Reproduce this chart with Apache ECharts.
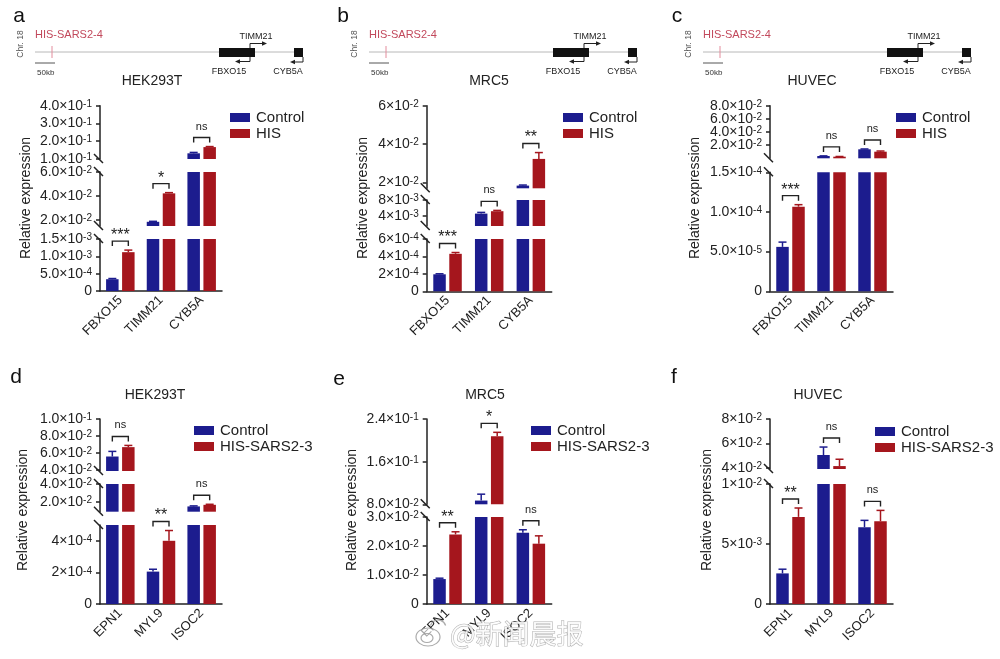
<!DOCTYPE html>
<html><head><meta charset="utf-8">
<script src="https://cdn.jsdelivr.net/npm/echarts@6/dist/echarts.min.js"></script>
<style>html,body{margin:0;padding:0;background:#fff}#c{width:1000px;height:659px}</style>
</head><body><div id="c"></div>
<script>
// ================= DATA =================
const genesTop = ['FBXO15', 'TIMM21', 'CYB5A'];
const genesBottom = ['EPN1', 'MYL9', 'ISOC2'];
const cellLines = ['HEK293T', 'MRC5', 'HUVEC'];
const namesTop = ['Control', 'HIS'];
const namesBottom = ['Control', 'HIS-SARS2-3'];

// panel a (HEK293T, top)
const aControl = [3.4e-4, 1.85e-2, 1.32e-1];
const aControlErr = [2e-5, 4e-4, 5e-3];
const aHIS = [1.12e-3, 4.22e-2, 1.67e-1];
const aHISErr = [6e-5, 6e-4, 3e-3];
const aSig = ['***', '*', 'ns'];
const aRanges = [[0, 1.5e-3], [1.5e-2, 6e-2], [1e-1, 4e-1]];
const aTicks = [[0, 5e-4, 1e-3, 1.5e-3], [2e-2, 4e-2, 6e-2], [1e-1, 2e-1, 3e-1, 4e-1]];
const aTickLabels = [['0', '5.0×10^-4', '1.0×10^-3', '1.5×10^-3'], ['2.0×10^-2', '4.0×10^-2', '6.0×10^-2'], ['1.0×10^-1', '2.0×10^-1', '3.0×10^-1', '4.0×10^-1']];

// panel b (MRC5, top)
const bControl = [1.95e-4, 4.6e-3, 1.84e-2];
const bControlErr = [6e-6, 3e-4, 3e-4];
const bHIS = [4.3e-4, 5.2e-3, 3.23e-2];
const bHISErr = [1.5e-5, 2e-4, 3.3e-3];
const bSig = ['***', 'ns', '**'];
const bRanges = [[0, 6e-4], [1.5e-3, 8e-3], [1.7e-2, 6e-2]];
const bTicks = [[0, 2e-4, 4e-4, 6e-4], [4e-3, 8e-3], [2e-2, 4e-2, 6e-2]];
const bTickLabels = [['0', '2×10^-4', '4×10^-4', '6×10^-4'], ['4×10^-3', '8×10^-3'], ['2×10^-2', '4×10^-2', '6×10^-2']];

// panel c (HUVEC, top)
const cControl = [5.6e-5, 3.6e-3, 1.38e-2];
const cControlErr = [6e-6, 2e-4, 5e-4];
const cHIS = [1.067e-4, 2.6e-3, 1.02e-2];
const cHISErr = [2.5e-6, 3e-4, 1e-3];
const cSig = ['***', 'ns', 'ns'];
const cRanges = [[0, 1.5e-4], [1.5e-4, 8e-2]];
const cTicks = [[0, 5e-5, 1e-4, 1.5e-4], [2e-2, 4e-2, 6e-2, 8e-2]];
const cTickLabels = [['0', '5.0×10^-5', '1.0×10^-4', '1.5×10^-4'], ['2.0×10^-2', '4.0×10^-2', '6.0×10^-2', '8.0×10^-2']];

// panel d (HEK293T, bottom)
const dControl = [5.6e-2, 2.05e-4, 1.49e-2];
const dControlErr = [6e-3, 1.5e-5, 6e-4];
const dHIS = [6.7e-2, 4.0e-4, 1.67e-2];
const dHISErr = [2e-3, 6.5e-5, 6e-4];
const dSig = ['ns', '**', 'ns'];
const dRanges = [[0, 5e-4], [9e-3, 4e-2], [3.9e-2, 1e-1]];
const dTicks = [[0, 2e-4, 4e-4], [2e-2, 4e-2], [4e-2, 6e-2, 8e-2, 1e-1]];
const dTickLabels = [['0', '2×10^-4', '4×10^-4'], ['2.0×10^-2', '4.0×10^-2'], ['4.0×10^-2', '6.0×10^-2', '8.0×10^-2', '1.0×10^-1']];

// panel e (MRC5, bottom)
const eControl = [8.6e-3, 8.7e-2, 2.46e-2];
const eControlErr = [3e-4, 1.2e-2, 1e-3];
const eHIS = [2.4e-2, 2.076e-1, 2.08e-2];
const eHISErr = [9e-4, 7.4e-3, 2.7e-3];
const eSig = ['**', '*', 'ns'];
const eRanges = [[0, 3e-2], [8e-2, 2.4e-1]];
const eTicks = [[0, 1e-2, 2e-2, 3e-2], [8e-2, 1.6e-1, 2.4e-1]];
const eTickLabels = [['0', '1.0×10^-2', '2.0×10^-2', '3.0×10^-2'], ['8.0×10^-2', '1.6×10^-1', '2.4×10^-1']];

// panel f (HUVEC, bottom)
const fControl = [2.55e-3, 5.05e-2, 6.4e-3];
const fControlErr = [3.5e-4, 6.5e-3, 5.7e-4];
const fHIS = [7.26e-3, 4.14e-2, 6.9e-3];
const fHISErr = [7.4e-4, 5.6e-3, 9e-4];
const fSig = ['**', 'ns', 'ns'];
const fRanges = [[0, 1e-2], [3.9e-2, 8e-2]];
const fTicks = [[0, 5e-3, 1e-2], [4e-2, 6e-2, 8e-2]];
const fTickLabels = [['0', '5×10^-3', '1×10^-2'], ['4×10^-2', '6×10^-2', '8×10^-2']];

// ================= PANELS & LAYOUT =================
const panels = [
  { id: 'a', cats: genesTop, names: namesTop, ctrl: aControl, ctrlErr: aControlErr, trt: aHIS, trtErr: aHISErr, sig: aSig, ranges: aRanges, ticks: aTicks, labels: aTickLabels, title: cellLines[0] },
  { id: 'b', cats: genesTop, names: namesTop, ctrl: bControl, ctrlErr: bControlErr, trt: bHIS, trtErr: bHISErr, sig: bSig, ranges: bRanges, ticks: bTicks, labels: bTickLabels, title: cellLines[1] },
  { id: 'c', cats: genesTop, names: namesTop, ctrl: cControl, ctrlErr: cControlErr, trt: cHIS, trtErr: cHISErr, sig: cSig, ranges: cRanges, ticks: cTicks, labels: cTickLabels, title: cellLines[2] },
  { id: 'd', cats: genesBottom, names: namesBottom, ctrl: dControl, ctrlErr: dControlErr, trt: dHIS, trtErr: dHISErr, sig: dSig, ranges: dRanges, ticks: dTicks, labels: dTickLabels, title: cellLines[0] },
  { id: 'e', cats: genesBottom, names: namesBottom, ctrl: eControl, ctrlErr: eControlErr, trt: eHIS, trtErr: eHISErr, sig: eSig, ranges: eRanges, ticks: eTicks, labels: eTickLabels, title: cellLines[1] },
  { id: 'f', cats: genesBottom, names: namesBottom, ctrl: fControl, ctrlErr: fControlErr, trt: fHIS, trtErr: fHISErr, sig: fSig, ranges: fRanges, ticks: fTicks, labels: fTickLabels, title: cellLines[2] }
];

const layout = {
  a: { x0: 100, x1: 222, segs: [[239, 291], [172, 226], [105.7, 159]], legend: [230, 110], title: [152, 81], ylab: [26, 198], letter: [19, 16] },
  b: { x0: 426.7, x1: 551.7, segs: [[239, 291.3], [200, 226], [105.7, 188.3]], legend: [563, 110], title: [489, 81], ylab: [363, 198], letter: [343, 16] },
  c: { x0: 770, x1: 893, segs: [[172.3, 291.3], [105.7, 158.3]], legend: [896, 110], title: [812, 81], ylab: [695, 198], letter: [677, 16] },
  d: { x0: 100, x1: 222, segs: [[525, 604], [484, 511.7], [419, 471]], legend: [194, 423], title: [155, 395], ylab: [23, 510], letter: [16, 377] },
  e: { x0: 426.7, x1: 551.7, segs: [[517, 604], [419, 504.3]], legend: [531, 423], title: [485, 395], ylab: [352, 510], letter: [339, 379] },
  f: { x0: 770, x1: 893, segs: [[484, 604], [419, 469]], legend: [875, 424], title: [818, 395], ylab: [707, 510], letter: [674, 377] }
};

const FONT = "'Liberation Sans', Arial, Helvetica, sans-serif";
const BLUE = '#1c1c8e';
const RED = '#a5161d';
const INK = '#222';
const BW = 12.5, GAP = 3.5, OFF = (BW + GAP) / 2;

const RICH = {
  m: { fontSize: 14, fontFamily: FONT, color: INK, lineHeight: 13 },
  e: { fontSize: 10, fontFamily: FONT, color: INK, lineHeight: 8, verticalAlign: 'top' }
};
function fmt(s) {
  const i = s.indexOf('^');
  if (i < 0) return '{m|' + s + '}';
  return '{m|' + s.slice(0, i) + '}{e|' + s.slice(i + 1) + '}';
}
function nearest(arr, v) {
  let bi = 0, bd = Infinity;
  arr.forEach((t, i) => { const d = Math.abs(t - v); if (d < bd) { bd = d; bi = i; } });
  return bi;
}

function errRender(params, api) {
  const i = api.value(0), v = api.value(1), e = api.value(2), g = api.value(3);
  const p0 = api.coord([i, v]);
  const p1 = api.coord([i, v + e]);
  const x = p0[0] + (g === 0 ? -OFF : OFF);
  const col = g === 0 ? BLUE : RED;
  return {
    type: 'group', children: [
      { type: 'line', shape: { x1: x, y1: p0[1], x2: x, y2: p1[1] }, style: { stroke: col, lineWidth: 1.5 } },
      { type: 'line', shape: { x1: x - 4, y1: p1[1], x2: x + 4, y2: p1[1] }, style: { stroke: col, lineWidth: 1.5 } }
    ]
  };
}
function makeBracket(sig) {
  return function (params, api) {
    const i = api.value(0);
    const c = api.coord([i, api.value(1)]);
    const y = c[1] - 9;
    const xl = c[0] - OFF, xr = c[0] + OFF;
    const txt = sig[i];
    const star = txt.indexOf('*') >= 0;
    return {
      type: 'group', children: [
        { type: 'polyline', shape: { points: [[xl, y + 5], [xl, y], [xr, y], [xr, y + 5]] }, style: { stroke: INK, lineWidth: 1.4, fill: null } },
        { type: 'text', style: { text: txt, x: (xl + xr) / 2, y: star ? y - 5.5 : y - 11, textAlign: 'center', textVerticalAlign: 'middle', fontSize: star ? 16 : 11, fontFamily: FONT, fill: INK } }
      ]
    };
  };
}

const grid = [], xAxis = [], yAxis = [], series = [], legend = [], graphic = [];

function valueAxis(gi, rg, ticks, labs, showLine) {
  return {
    type: 'value', gridIndex: gi, position: 'left', offset: 0, min: rg[0], max: rg[1],
    splitLine: { show: false },
    axisLine: { show: showLine, onZero: false, lineStyle: { color: INK, width: 1.5 } },
    axisTick: { show: true, length: 4, customValues: ticks, lineStyle: { color: INK, width: 1.5 } },
    axisLabel: { customValues: ticks, margin: 8, hideOverlap: false, showMinLabel: true, showMaxLabel: true, formatter: v => fmt(labs[nearest(ticks, v)]), rich: RICH }
  };
}

panels.forEach(p => {
  const L = layout[p.id];
  const n = p.ranges.length;
  p.ranges.forEach((rg, si) => {
    const gi = grid.length;
    const top = L.segs[si][0], bottom = L.segs[si][1];
    grid.push({ left: L.x0, top: top, width: L.x1 - L.x0, height: bottom - top, containLabel: false, outerBoundsMode: 'none' });
    const isBottom = si === 0;
    xAxis.push({
      type: 'category', gridIndex: gi, data: p.cats, show: isBottom,
      axisLine: { onZero: false, lineStyle: { color: INK, width: 1.5 } },
      axisTick: { alignWithLabel: true, length: 5, lineStyle: { color: INK, width: 1.5 } },
      axisLabel: { rotate: 45, interval: 0, fontSize: 13, color: INK, margin: 7, fontFamily: FONT, hideOverlap: false }
    });
    // tick labels are split over two coincident axes (alternating), so tightly packed labels are all kept
    const ticks = p.ticks[si], labs = p.labels[si];
    const evT = ticks.filter((t, k) => k % 2 === 0), evL = labs.filter((t, k) => k % 2 === 0);
    const odT = ticks.filter((t, k) => k % 2 === 1), odL = labs.filter((t, k) => k % 2 === 1);
    const ya = yAxis.length;
    yAxis.push(valueAxis(gi, rg, evT, evL, true));
    if (odT.length) yAxis.push(valueAxis(gi, rg, odT, odL, false));
    series.push({ type: 'bar', name: p.names[0], xAxisIndex: gi, yAxisIndex: ya, data: p.ctrl, barWidth: BW, barGap: (GAP / BW * 100) + '%', itemStyle: { color: BLUE }, clip: true, silent: true });
    series.push({ type: 'bar', name: p.names[1], xAxisIndex: gi, yAxisIndex: ya, data: p.trt, barWidth: BW, barGap: (GAP / BW * 100) + '%', itemStyle: { color: RED }, clip: true, silent: true });
    const errData = [];
    p.cats.forEach((c, i) => {
      if (p.ctrl[i] >= rg[0] && p.ctrl[i] <= rg[1]) errData.push([i, p.ctrl[i], p.ctrlErr[i], 0]);
      if (p.trt[i] >= rg[0] && p.trt[i] <= rg[1]) errData.push([i, p.trt[i], p.trtErr[i], 1]);
    });
    series.push({ type: 'custom', xAxisIndex: gi, yAxisIndex: ya, data: errData, encode: { x: 0, y: 1 }, renderItem: errRender, z: 4, silent: true });
    const brData = [];
    p.cats.forEach((c, i) => {
      const t = Math.max(p.ctrl[i] + p.ctrlErr[i], p.trt[i] + p.trtErr[i]);
      if (t > rg[0] && t <= rg[1]) brData.push([i, t]);
    });
    series.push({ type: 'custom', xAxisIndex: gi, yAxisIndex: ya, data: brData, encode: { x: 0, y: 1 }, renderItem: makeBracket(p.sig), clip: false, z: 5, silent: true });

    // axis break marks
    const mark = y => ({ type: 'line', shape: { x1: L.x0 - 6, y1: y - 5, x2: L.x0 + 3, y2: y + 4 }, style: { stroke: INK, lineWidth: 1.5 }, z: 10 });
    if (si > 0) graphic.push(mark(bottom));
    if (si < n - 1) graphic.push(mark(top));
  });

  legend.push({
    data: p.names, left: L.legend[0], top: L.legend[1], orient: 'vertical', icon: 'rect',
    itemWidth: 20, itemHeight: 9, itemGap: 1, selectedMode: false, padding: 0,
    textStyle: { fontSize: 15, color: INK, fontFamily: FONT, lineHeight: 15, padding: [0, 0, 0, 1] }
  });

  graphic.push({ type: 'text', x: L.title[0], y: L.title[1], style: { text: p.title, fontSize: 14, fontFamily: FONT, fill: INK, textAlign: 'center', textVerticalAlign: 'middle' } });
  graphic.push({ type: 'text', x: L.ylab[0], y: L.ylab[1], rotation: Math.PI / 2, style: { text: 'Relative expression', fontSize: 14, fontFamily: FONT, fill: INK, textAlign: 'center', textVerticalAlign: 'middle' } });
  graphic.push({ type: 'text', x: L.letter[0], y: L.letter[1], style: { text: p.id, fontSize: 21, fontFamily: FONT, fill: '#111', textAlign: 'center', textVerticalAlign: 'middle' } });
});

// gene locus schematics (panels a, b, c)
function geneDiagram(dx) {
  const ln = (x1, y1, x2, y2, stroke, w) => ({ type: 'line', shape: { x1: x1 + dx, y1: y1, x2: x2 + dx, y2: y2 }, style: { stroke: stroke, lineWidth: w } });
  const pl = pts => ({ type: 'polyline', shape: { points: pts.map(q => [q[0] + dx, q[1]]) }, style: { stroke: '#222', lineWidth: 1, fill: null } });
  const tri = pts => ({ type: 'polygon', shape: { points: pts.map(q => [q[0] + dx, q[1]]) }, style: { fill: '#222' } });
  const tx = (t, x, y, size, fill, align) => ({ type: 'text', x: x + dx, y: y, style: { text: t, fontSize: size, fontFamily: FONT, fill: fill, textAlign: align || 'center', textVerticalAlign: 'middle' } });
  return [
    ln(35, 52, 303, 52, '#b8b8b8', 1),
    ln(52, 46, 52, 58, '#e38c9c', 1),
    ln(35, 63, 55, 63, '#555', 1),
    { type: 'rect', shape: { x: 219 + dx, y: 48, width: 36, height: 9 }, style: { fill: '#111' } },
    { type: 'rect', shape: { x: 294 + dx, y: 48, width: 9, height: 9 }, style: { fill: '#111' } },
    pl([[250, 48], [250, 43.5], [263, 43.5]]), tri([[267, 43.5], [262, 41.3], [262, 45.7]]),
    pl([[250, 57], [250, 61.5], [239, 61.5]]), tri([[235, 61.5], [240, 59.3], [240, 63.7]]),
    pl([[303, 57], [303, 62], [294, 62]]), tri([[290, 62], [295, 59.8], [295, 64.2]]),
    { type: 'text', x: 20.5 + dx, y: 44, rotation: Math.PI / 2, style: { text: 'Chr. 18', fontSize: 8.5, fontFamily: FONT, fill: '#555', textAlign: 'center', textVerticalAlign: 'middle' } },
    tx('HIS-SARS2-4', 35, 35, 11, '#c2495c', 'left'),
    tx('50kb', 37, 73, 8, '#333', 'left'),
    tx('TIMM21', 256, 36.5, 9, '#222'),
    tx('FBXO15', 229, 72, 9, '#222'),
    tx('CYB5A', 288, 72, 9, '#222')
  ];
}
[0, 334, 668].forEach(dx => geneDiagram(dx).forEach(el => graphic.push(el)));

// watermark
graphic.push({ type: 'ellipse', shape: { cx: 428, cy: 637, rx: 12, ry: 9 }, style: { stroke: 'rgba(150,150,150,0.8)', fill: 'rgba(255,255,255,0.6)', lineWidth: 1.2 }, z: 50 });
graphic.push({ type: 'ellipse', shape: { cx: 427, cy: 638, rx: 6, ry: 4.5 }, style: { stroke: 'rgba(150,150,150,0.8)', fill: null, lineWidth: 1.2 }, z: 50 });
graphic.push({ type: 'arc', shape: { cx: 438, cy: 628, r: 8, startAngle: -Math.PI * 0.9, endAngle: -Math.PI * 0.1 }, style: { stroke: 'rgba(150,150,150,0.8)', fill: null, lineWidth: 1.2 }, z: 50 });
graphic.push({ type: 'text', x: 450, y: 634, style: { text: '@新闻晨报', fontSize: 27, fontFamily: "'Noto Sans CJK SC', sans-serif", fill: 'rgba(255,255,255,0.85)', stroke: 'rgba(150,150,150,0.75)', lineWidth: 1, textAlign: 'left', textVerticalAlign: 'middle' }, z: 50 });

const chart = echarts.init(document.getElementById('c'), null, { renderer: 'canvas' });
chart.setOption({
  backgroundColor: '#fff',
  animation: false,
  textStyle: { fontFamily: FONT },
  grid: grid, xAxis: xAxis, yAxis: yAxis, series: series, legend: legend, graphic: graphic
});
</script></body></html>
